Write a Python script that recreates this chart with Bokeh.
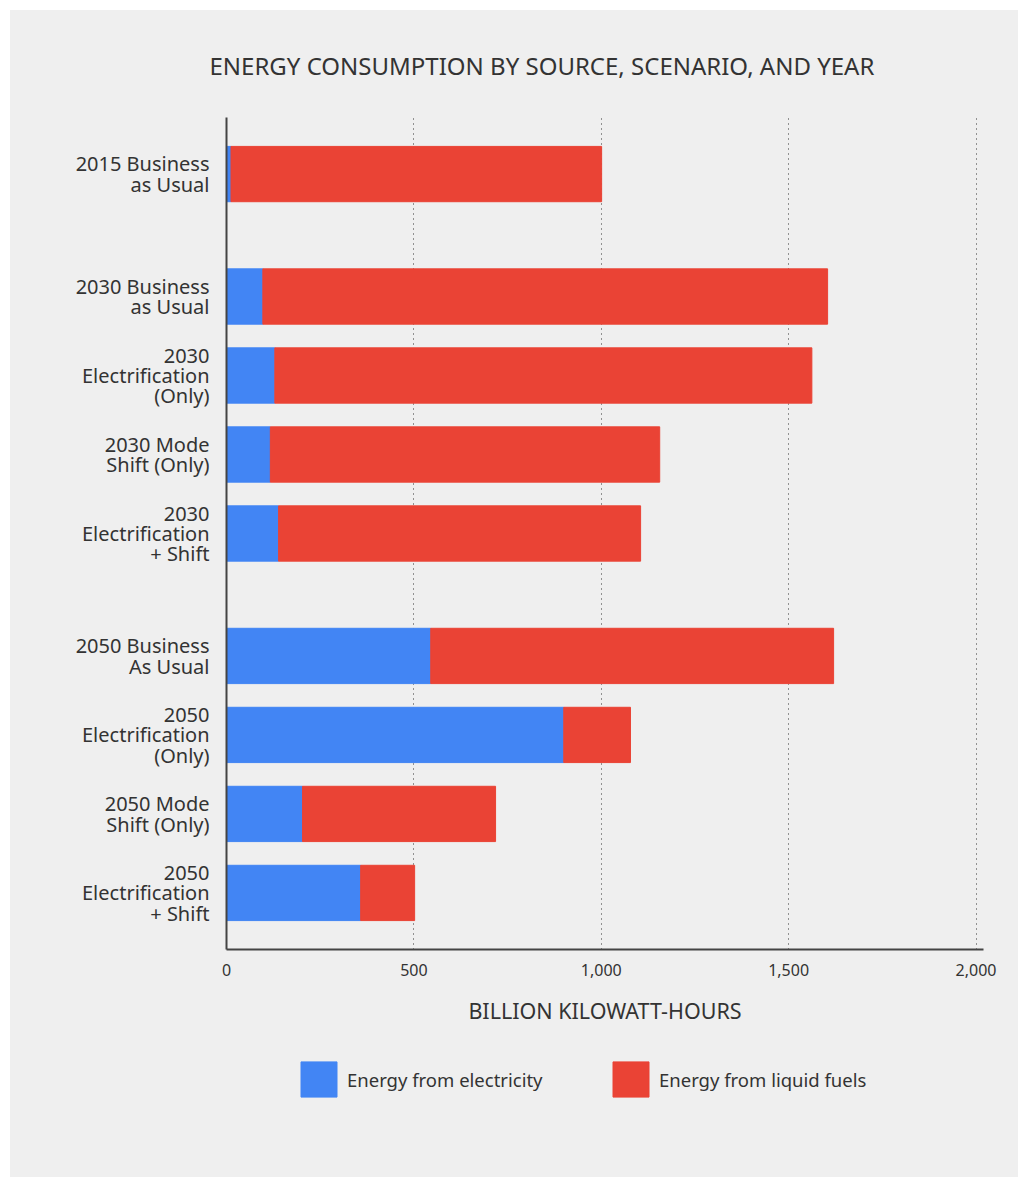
from bokeh.plotting import figure
from bokeh.layouts import column
from bokeh.models import (FactorRange, Range1d, FixedTicker, NumeralTickFormatter,
                          ColumnDataSource, Legend, LegendItem)
from bokeh.embed import file_html
from bokeh.resources import INLINE

# ---- data ----
years = ["2015", "2030", "2030", "2030", "2030", "2050", "2050", "2050", "2050"]
scenarios = [
    "2015 Business\nas Usual",
    "2030 Business\nas Usual",
    "2030\nElectrification\n(Only)",
    "2030 Mode\nShift (Only)",
    "2030\nElectrification\n+ Shift",
    "2050 Business\nAs Usual",
    "2050\nElectrification\n(Only)",
    "2050 Mode\nShift (Only)",
    "2050\nElectrification\n+ Shift",
]
electricity = [12, 97, 129, 117, 139, 545, 900, 203, 358]
liquid_fuels = [989, 1507, 1433, 1039, 966, 1075, 178, 515, 144]
series_names = ["Energy from electricity", "Energy from liquid fuels"]
x_ticks = [0, 500, 1000, 1500, 2000]

colors = ["#4285F4", "#EA4335"]
BG = "#efefef"
TXT = "#333333"
FONT = "Noto Sans"

factors = list(zip(years, scenarios))
source = ColumnDataSource(dict(y=factors, electricity=electricity, liquid_fuels=liquid_fuels))

y_range = FactorRange(factors=factors[::-1], group_padding=0.55, factor_padding=0.0,
                      range_padding=0.216, range_padding_units="absolute")
x_range = Range1d(0, 2020)

p = figure(width=1008, height=1029, y_range=y_range, x_range=x_range,
           output_backend="svg", toolbar_location=None,
           title="ENERGY CONSUMPTION BY SOURCE, SCENARIO, AND YEAR",
           min_border_left=216, min_border_right=35, min_border_top=107, min_border_bottom=90)

renderers = p.hbar_stack(["electricity", "liquid_fuels"], y="y", height=0.7,
                         color=colors, source=source)

p.background_fill_color = BG
p.border_fill_color = BG
p.outline_line_color = None

# title
p.title.text_font = FONT
p.title.text_font_size = "24px"
p.title.text_font_style = "normal"
p.title.text_color = TXT
p.title.align = "left"
p.title.offset = -17
p.title.standoff = 72

# grid
p.ygrid.grid_line_color = None
p.xgrid.grid_line_color = "#333333"
p.xgrid.grid_line_dash = "1 4"
p.xgrid.grid_line_width = 1

# x axis
xa = p.xaxis[0]
xa.ticker = FixedTicker(ticks=x_ticks)
xa.formatter = NumeralTickFormatter(format="0,0")
xa.major_tick_line_color = None
xa.minor_tick_line_color = None
xa.axis_line_color = "#444444"
xa.axis_line_width = 2
xa.major_label_text_font = FONT
xa.major_label_text_font_size = "16px"
xa.major_label_text_color = TXT
xa.major_label_standoff = 8
xa.axis_label = "BILLION KILOWATT-HOURS"
xa.axis_label_text_font = FONT
xa.axis_label_text_font_size = "21.5px"
xa.axis_label_text_font_style = "normal"
xa.axis_label_text_color = TXT
xa.axis_label_standoff = 17

# y axis
ya = p.yaxis[0]
ya.major_tick_line_color = None
ya.minor_tick_line_color = None
ya.axis_line_color = "#444444"
ya.axis_line_width = 2
ya.major_label_orientation = "horizontal"
ya.major_label_text_font = FONT
ya.major_label_text_font_size = "20px"
ya.major_label_text_color = TXT
ya.major_label_text_line_height = 0.75
ya.major_label_standoff = 11
ya.group_text_font_size = "0px"
ya.group_text_color = None
ya.separator_line_color = None

# ---- legend strip below the chart ----
pl = figure(width=1008, height=138, x_range=x_range, y_range=y_range,
            output_backend="svg", toolbar_location=None,
            x_axis_type=None, y_axis_type=None, min_border=0)
pl.background_fill_alpha = 0
pl.border_fill_color = BG
pl.outline_line_color = None
pl.xgrid.grid_line_color = None
pl.ygrid.grid_line_color = None
legend_renderers = pl.hbar_stack(["electricity", "liquid_fuels"], y="y", height=0.7,
                                 color=colors, source=source)
for r in legend_renderers:
    r.visible = False

legend = Legend(
    items=[LegendItem(label=series_names[i], renderers=[legend_renderers[i]]) for i in range(2)],
    orientation="horizontal", location=(70, 76),
    glyph_width=45, glyph_height=44, label_standoff=6, spacing=11, label_width=250,
    label_text_font=FONT, label_text_font_size="18.5px", label_text_color=TXT,
    border_line_color=None, background_fill_alpha=0, padding=10, margin=0,
    inactive_fill_alpha=0,
)
pl.add_layout(legend, "center")

layout = column(p, pl, spacing=0)
layout.margin = (10, 0, 0, 10)
layout.styles = {"background-color": BG}

open("out.html", "w").write(file_html(layout, INLINE))
